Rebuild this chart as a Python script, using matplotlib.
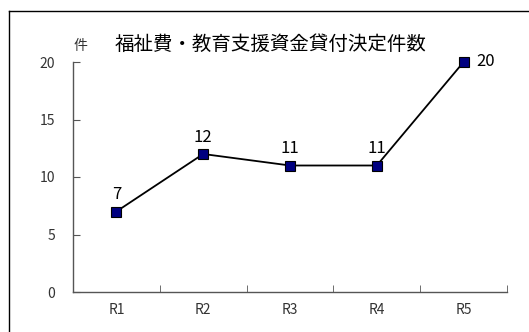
import matplotlib.pyplot as plt
from matplotlib.lines import Line2D

plt.rcParams['font.family'] = ['Noto Sans CJK JP', 'DejaVu Sans']

# 年度別の貸付決定件数
years = ['R1', 'R2', 'R3', 'R4', 'R5']
counts = [7, 12, 11, 11, 20]

W, H = 529, 332
fig = plt.figure(figsize=(W / 100, H / 100), dpi=100)
ax = fig.add_axes([73 / W, 1 - 292 / H, (507 - 73) / W, (292 - 62) / H])

x = list(range(len(years)))
ax.plot(x, counts, color='black', lw=1.3, marker='s', markersize=7,
        markerfacecolor='#000080', markeredgecolor='black', markeredgewidth=0.8,
        zorder=3, clip_on=False)

for xi, v in zip(x, counts):
    if xi == len(x) - 1:
        ax.annotate(str(v), (xi, v), xytext=(9, 0), textcoords='offset points',
                    ha='left', va='center', fontsize=12)
    else:
        ax.annotate(str(v), (xi, v), xytext=(0, 6), textcoords='offset points',
                    ha='center', va='bottom', fontsize=12)

ax.set_xlim(-0.5, len(years) - 0.5)
ax.set_ylim(0, 20)
ax.set_yticks([0, 5, 10, 15, 20])
ax.set_xticks(x)
ax.set_xticklabels(years)
ax.set_xticks([i - 0.5 for i in range(len(years) + 1)], minor=True)
ax.tick_params(axis='x', which='major', length=0, pad=8, labelsize=10, labelcolor='#333333')
ax.tick_params(axis='x', which='minor', direction='in', length=5, color='#555555')
ax.tick_params(axis='y', direction='in', length=5, pad=13, labelsize=10,
               labelcolor='#333333', color='#555555')

for side in ['top', 'right']:
    ax.spines[side].set_visible(False)
for side in ['left', 'bottom']:
    ax.spines[side].set_color('#555555')
    ax.spines[side].set_linewidth(1.0)

ax.text(0.016, 1.07, '件', transform=ax.transAxes, ha='center', va='center',
        fontsize=10, color='#333333')
fig.text(271 / W, 1 - 44 / H, '福祉費・教育支援資金貸付決定件数', ha='center', va='center',
         fontsize=14)

# 外枠 (左と上のみ)
fig.add_artist(Line2D([8.5 / W, 8.5 / W], [0, 1 - 10.5 / H], transform=fig.transFigure,
                      color='black', lw=1.0))
fig.add_artist(Line2D([8.5 / W, 1], [1 - 10.5 / H, 1 - 10.5 / H], transform=fig.transFigure,
                      color='black', lw=1.0))

fig.savefig('out.png', dpi=100)
